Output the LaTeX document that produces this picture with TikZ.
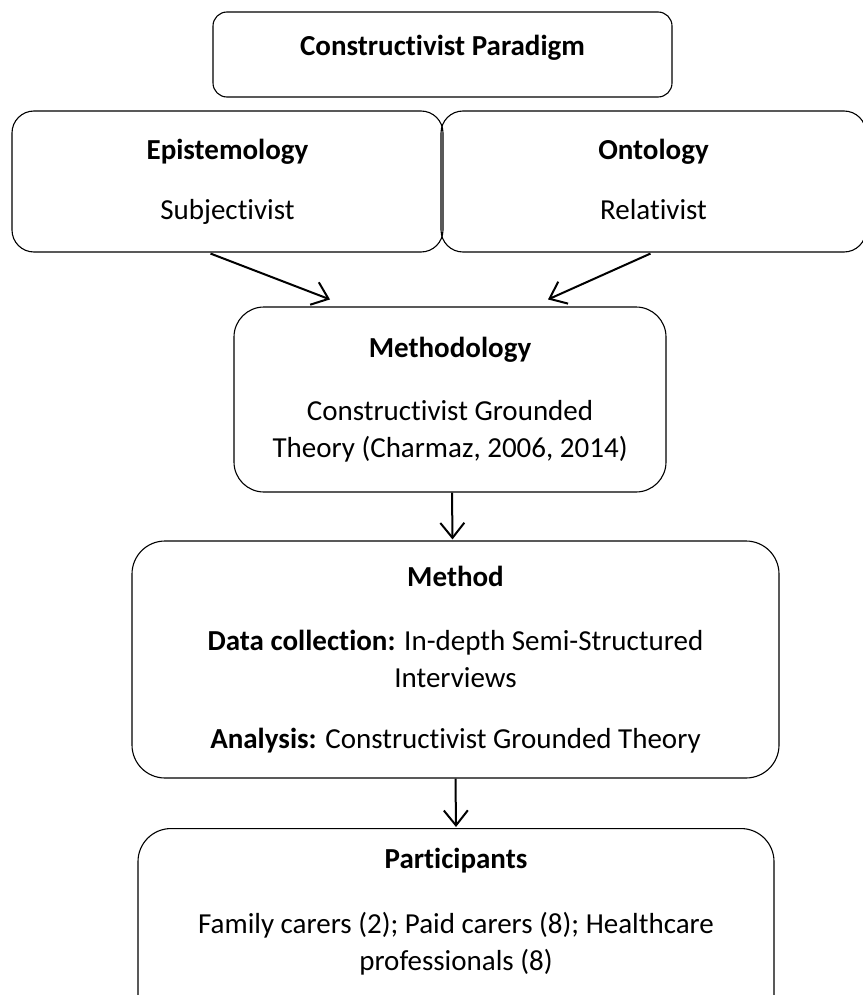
\documentclass[tikz,border=0pt]{standalone}
\usepackage{fontspec}
\setmainfont{Carlito}[Ligatures=NoCommon]
\usetikzlibrary{arrows.meta, calc}

\begin{document}
\begin{tikzpicture}[
  x=1pt, y=-1pt,
  box/.style={rectangle, draw, line width=1.1pt, rounded corners=#1, align=center, inner sep=0pt, font=\fontsize{29}{37}\selectfont},
  box/.default=30pt,
  arrow/.style={-{Straight Barb[length=15pt, width=24pt]}, line width=2pt},
]
\useasboundingbox (0,0) rectangle (862,995);

\node[box=14pt, minimum width=459pt, minimum height=85pt] (paradigm) at (442.5,54.5) {\textbf{Constructivist Paradigm}\\[-18pt]\mbox{}};
\node[box=22pt, minimum width=431pt, minimum height=141pt] (epis) at (227.5,181.5) {\textbf{Epistemology}\\[23pt]Subjectivist};
\node[box=22pt, minimum width=425pt, minimum height=141pt] (onto) at (653.5,181.5) {\textbf{Ontology}\\[23pt]Relativist\vphantom{j}};
\node[box, minimum width=432pt, minimum height=185pt] (methodology) at (450,399.5) {\textbf{Methodology}\\[26pt]Constructivist Grounded\\Theory (Charmaz, 2006, 2014)};
\node[box=33pt, minimum width=647pt, minimum height=237pt] (method) at (455.5,659.5) {\textbf{Method}\\[27pt]\textbf{Data collection:} In-depth Semi-Structured\\Interviews\\[24pt]\textbf{Analysis:} Constructivist Grounded Theory};
\node[box=33pt, minimum width=636pt, inner ysep=20pt, anchor=north] (participants) at (456,828) {\textbf{Participants}\\[28pt]Family carers (2); Paid carers (8); Healthcare\\professionals (8)\\[30pt]\mbox{}};

\draw[arrow] ($(epis.south)+(-17,1)$) -- ($(methodology.north)+(-120,-7)$);
\draw[arrow] ($(onto.south)+(-3,1)$) -- ($(methodology.north)+(98,-7)$);
\draw[arrow] ($(methodology.south)+(2,0)$) -- ($(method.north)+(-3,-1)$);
\draw[arrow] (method.south) -- ($(participants.north)+(0,-1)$);

\end{tikzpicture}
\end{document}
